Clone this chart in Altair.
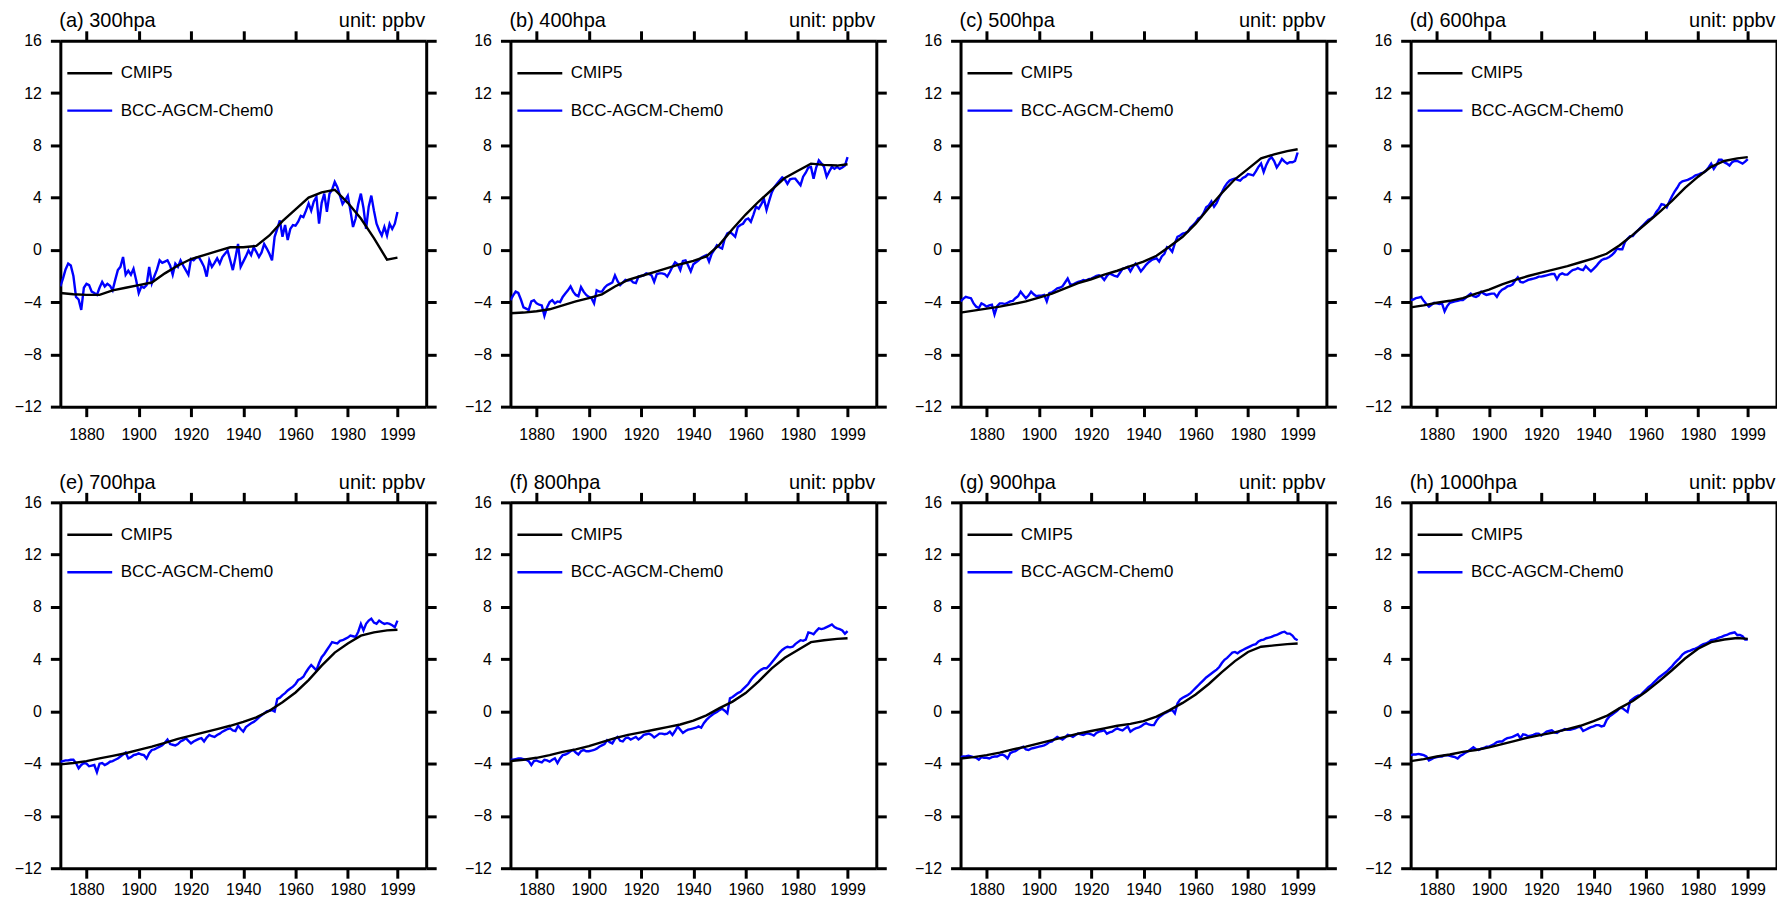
import altair as alt
import pandas as pd

FONT = "Liberation Sans"

YEARS = list(range(1870, 2000))
CMIP_YEARS = [1870, 1875, 1880, 1885, 1890, 1895, 1900, 1905, 1910, 1915, 1920, 1925, 1930,
              1935, 1940, 1945, 1950, 1955, 1960, 1965, 1970, 1975, 1980, 1985, 1990, 1995, 1999]
SERIES = ["CMIP5", "BCC-AGCM-Chem0"]
PANEL_TITLES = ["(a) 300hpa", "(b) 400hpa", "(c) 500hpa", "(d) 600hpa",
                "(e) 700hpa", "(f) 800hpa", "(g) 900hpa", "(h) 1000hpa"]
UNIT = "unit: ppbv"
X_TICKS = [1880, 1900, 1920, 1940, 1960, 1980, 1999]
Y_TICKS = [-12, -8, -4, 0, 4, 8, 12, 16]

# ---------------- CMIP5 (black) ----------------
cmip_300 = [-3.3, -3.4, -3.45, -3.45, -3.1, -2.9, -2.7, -2.5, -1.8, -1.2, -0.7, -0.4, -0.1, 0.2,
            0.2, 0.3, 1.1, 2.2, 3.1, 4.0, 4.4, 4.6, 3.6, 2.4, 0.9, -0.75, -0.6]
cmip_400 = [-4.85, -4.8, -4.7, -4.55, -4.25, -3.95, -3.7, -3.4, -2.8, -2.3, -2.0, -1.7, -1.4, -1.1,
            -0.85, -0.5, 0.4, 1.6, 2.7, 3.7, 4.6, 5.5, 6.05, 6.6, 6.5, 6.45, 6.55]
cmip_500 = [-4.8, -4.65, -4.5, -4.35, -4.15, -3.95, -3.65, -3.35, -2.95, -2.55, -2.25, -1.9, -1.6,
            -1.25, -0.9, -0.45, 0.25, 1.0, 2.0, 3.2, 4.35, 5.4, 6.2, 7.0, 7.3, 7.55, 7.7]
cmip_600 = [-4.4, -4.25, -4.05, -3.9, -3.7, -3.35, -3.05, -2.65, -2.3, -2.0, -1.75, -1.5, -1.25,
            -0.95, -0.65, -0.3, 0.35, 1.15, 2.0, 2.85, 3.75, 4.75, 5.6, 6.35, 6.8, 7.0, 7.1]
cmip_700 = [-4.05, -3.95, -3.8, -3.6, -3.4, -3.2, -2.95, -2.7, -2.4, -2.1, -1.85, -1.6, -1.35,
            -1.1, -0.8, -0.45, 0.05, 0.7, 1.45, 2.4, 3.5, 4.5, 5.2, 5.8, 6.05, 6.2, 6.25]
cmip_800 = [-3.8, -3.7, -3.55, -3.35, -3.1, -2.9, -2.65, -2.35, -2.05, -1.8, -1.6, -1.4, -1.2,
            -1.0, -0.7, -0.3, 0.25, 0.75, 1.4, 2.3, 3.3, 4.1, 4.7, 5.3, 5.45, 5.55, 5.6]
cmip_900 = [-3.6, -3.5, -3.35, -3.15, -2.9, -2.7, -2.45, -2.2, -1.95, -1.7, -1.5, -1.3, -1.1,
            -0.95, -0.75, -0.4, 0.1, 0.65, 1.3, 2.1, 3.0, 3.85, 4.55, 4.95, 5.05, 5.15, 5.2]
cmip_1000 = [-3.8, -3.65, -3.45, -3.3, -3.1, -2.95, -2.75, -2.5, -2.25, -2.0, -1.8, -1.6, -1.35,
             -1.1, -0.75, -0.35, 0.25, 0.8, 1.5, 2.3, 3.15, 4.05, 4.8, 5.3, 5.5, 5.62, 5.55]

# ---------------- BCC-AGCM-Chem0 (blue), annual 1870-1999 ----------------
bcc_300 = [
    -2.8, -2.2, -1.5, -1.05, -1.2, -2.0, -3.6, -3.8, -4.6, -2.9,
    -2.6, -2.7, -3.2, -3.3, -3.45, -2.9, -2.45, -2.8, -2.6, -2.75,
    -3.1, -2.3, -1.55, -1.3, -0.55, -1.9, -1.6, -1.9, -1.45, -2.3,
    -3.3, -2.8, -2.9, -2.7, -1.3, -2.55, -2.0, -1.5, -0.8, -1.0,
    -0.9, -0.8, -1.2, -1.9, -1.05, -1.3, -0.8, -1.2, -1.55, -1.9,
    -0.7, -0.8, -0.6, -0.55, -0.9, -1.3, -2.05, -0.8, -1.3, -1.0,
    -0.65, -1.05, -0.55, -0.3, -0.05, -0.8, -1.55, -0.6, 0.45, -1.3,
    -0.9, -0.5, -0.05, -0.4, 0.2, -0.15, -0.55, -0.2, 0.45, 0.1,
    -0.3, -0.8, 1.0, 1.6, 2.25, 1.0, 1.9, 0.75, 1.6, 1.9,
    1.85, 2.15, 2.6, 2.5, 3.0, 3.55, 3.0, 3.7, 4.05, 2.0,
    3.6, 4.3, 2.9, 4.3, 4.6, 5.2, 4.8, 4.15, 3.5, 3.8,
    4.15, 3.0, 1.75, 2.4, 3.5, 4.3, 3.2, 1.6, 3.3, 4.15,
    3.0, 2.0, 1.5, 1.1, 1.75, 1.1, 2.0, 1.6, 2.0, 2.9]
bcc_400 = [
    -3.85, -3.5, -3.2, -3.3, -3.8, -4.4, -4.5, -4.6, -3.95, -3.85,
    -4.1, -4.2, -4.25, -5.05, -4.4, -4.0, -3.85, -4.1, -3.95, -4.0,
    -3.6, -3.35, -3.1, -2.8, -3.2, -3.45, -3.55, -2.85, -3.2, -3.45,
    -3.6, -3.7, -4.1, -3.1, -3.2, -3.2, -2.9, -2.7, -2.6, -2.5,
    -1.95, -2.4, -2.7, -2.5, -2.3, -2.35, -2.3, -2.5, -2.55, -2.05,
    -2.0, -1.95, -1.8, -1.85, -1.95, -2.45, -1.85, -1.8, -1.8, -1.85,
    -2.05, -1.7, -1.3, -0.95, -1.1, -1.55, -0.85, -0.8, -1.2, -1.65,
    -1.1, -0.95, -0.8, -0.6, -0.5, -0.4, -0.9, -0.3, 0.0, 0.35,
    0.2, 0.1, 0.85, 1.25, 1.35, 1.2, 1.0, 1.75, 1.9, 2.0,
    2.3, 2.4, 2.15, 2.7, 3.3, 3.15, 3.5, 3.9, 3.05, 3.75,
    4.4, 4.8, 5.05, 5.3, 5.55, 5.4, 5.05, 5.4, 5.45, 5.45,
    5.2, 4.95, 5.6, 5.9, 6.3, 6.35, 5.45, 6.3, 6.85, 6.6,
    6.35, 5.6, 6.0, 6.35, 6.2, 6.35, 6.2, 6.3, 6.45, 7.1]
bcc_500 = [
    -3.95, -3.75, -3.6, -3.65, -3.7, -4.1, -4.35, -4.45, -4.1, -4.2,
    -4.35, -4.25, -4.2, -4.95, -4.3, -4.1, -4.1, -4.15, -4.05, -3.95,
    -3.9, -3.7, -3.55, -3.2, -3.45, -3.7, -3.5, -3.2, -3.4, -3.55,
    -3.5, -3.5, -3.45, -3.95, -3.3, -3.25, -3.1, -2.95, -2.9, -2.8,
    -2.5, -2.2, -2.65, -2.65, -2.55, -2.45, -2.4, -2.3, -2.35, -2.25,
    -2.2, -2.1, -2.0, -1.95, -2.05, -2.3, -2.0, -1.8, -1.9, -2.0,
    -2.05, -1.75, -1.45, -1.4, -1.3, -1.65, -1.3, -1.05, -1.3, -1.65,
    -1.4, -1.15, -0.95, -0.8, -0.7, -0.65, -0.9, -0.5, -0.3, 0.2,
    0.1, -0.15, 0.5, 1.0, 1.1, 1.25, 1.3, 1.4, 1.7, 1.9,
    2.1, 2.4, 2.5, 2.8, 3.25, 3.4, 3.7, 3.3, 3.6, 4.05,
    4.4, 4.8, 5.1, 5.3, 5.4, 5.45, 5.35, 5.3, 5.5, 5.6,
    5.8, 5.75, 5.7, 6.0, 6.35, 6.6, 5.95, 6.5, 6.9, 7.1,
    6.8, 6.3, 6.6, 6.95, 6.75, 6.6, 6.7, 6.7, 6.8, 7.45]
bcc_600 = [
    -3.85, -3.8, -3.7, -3.65, -3.6, -3.9, -4.15, -4.35, -4.2, -4.05,
    -4.1, -4.15, -4.1, -4.7, -4.3, -4.05, -4.0, -3.95, -3.9, -3.85,
    -3.85, -3.7, -3.5, -3.35, -3.55, -3.6, -3.5, -3.2, -3.35, -3.45,
    -3.4, -3.35, -3.35, -3.6, -3.25, -3.05, -2.95, -2.8, -2.75, -2.65,
    -2.35, -2.1, -2.45, -2.5, -2.4, -2.3, -2.25, -2.2, -2.15, -2.05,
    -2.05, -2.0, -1.95, -1.9, -1.85, -1.85, -2.25, -1.9, -1.8, -1.9,
    -1.9, -1.7, -1.55, -1.5, -1.4, -1.5, -1.55, -1.25, -1.45, -1.65,
    -1.45, -1.25, -1.0, -0.8, -0.7, -0.65, -0.55, -0.4, -0.2, 0.1,
    0.05, 0.05, 0.6, 0.85, 1.05, 1.05, 1.3, 1.5, 1.7, 1.9,
    2.1, 2.3, 2.4, 2.55, 2.9, 3.15, 3.5, 3.45, 3.25, 3.7,
    4.1, 4.45, 4.75, 5.1, 5.25, 5.3, 5.35, 5.45, 5.55, 5.7,
    5.75, 5.85, 5.9, 6.05, 6.3, 6.6, 6.2, 6.5, 6.9, 6.9,
    6.7, 6.6, 6.45, 6.7, 6.8, 6.8, 6.7, 6.6, 6.75, 6.95]
bcc_700 = [
    -3.85, -3.8, -3.75, -3.75, -3.7, -3.7, -3.95, -4.35, -4.1, -3.95,
    -4.0, -4.2, -4.15, -4.1, -4.65, -4.0, -3.95, -4.1, -4.0, -3.85,
    -3.8, -3.7, -3.6, -3.45, -3.3, -3.15, -3.6, -3.5, -3.35, -3.3,
    -3.2, -3.3, -3.35, -3.6, -3.2, -2.95, -2.9, -2.8, -2.7, -2.6,
    -2.4, -2.15, -2.5, -2.55, -2.6, -2.5, -2.3, -2.2, -2.05, -2.25,
    -2.45, -2.3, -2.2, -2.1, -2.05, -2.3, -2.0, -1.8, -1.9, -1.95,
    -1.8, -1.7, -1.55, -1.45, -1.35, -1.3, -1.45, -1.5, -1.1, -1.35,
    -1.55, -1.2, -1.05, -0.9, -0.8, -0.65, -0.45, -0.3, -0.15, 0.0,
    0.05, 0.1, 0.0, 0.95, 1.05, 1.25, 1.4, 1.6, 1.75, 1.9,
    2.1, 2.4, 2.5, 2.65, 3.0, 3.3, 3.55, 3.35, 3.15, 3.7,
    4.15, 4.4, 4.7, 5.0, 5.3, 5.25, 5.2, 5.4, 5.45, 5.55,
    5.65, 5.8, 5.75, 5.7, 6.1, 6.7, 6.2, 6.7, 6.95, 7.1,
    6.8, 6.7, 6.95, 6.8, 6.7, 6.75, 6.7, 6.6, 6.45, 6.95]
bcc_800 = [
    -3.7, -3.7, -3.65, -3.6, -3.6, -3.65, -3.7, -3.8, -4.1, -3.8,
    -3.75, -3.85, -3.9, -3.7, -3.75, -3.85, -3.7, -3.6, -3.95, -3.6,
    -3.35, -3.3, -3.2, -3.05, -2.95, -3.15, -3.3, -3.05, -2.95, -3.05,
    -3.05, -3.0, -2.95, -2.85, -2.7, -2.6, -2.5, -2.2, -2.35, -2.45,
    -2.1, -1.95, -2.25, -2.3, -2.05, -2.0, -2.15, -2.05, -1.95, -2.15,
    -2.0, -1.8, -1.75, -1.7, -1.8, -2.0, -1.85, -1.7, -1.7, -1.75,
    -1.7, -1.55, -1.8, -1.5, -1.15, -1.4, -1.65, -1.5, -1.4, -1.35,
    -1.3, -1.25, -1.15, -1.25, -0.9, -0.65, -0.45, -0.3, -0.15, -0.05,
    0.1, 0.2, 0.05, -0.15, 1.0, 1.1, 1.25, 1.4, 1.5, 1.7,
    1.9, 2.1, 2.4, 2.65, 2.85, 3.05, 3.2, 3.3, 3.3, 3.5,
    3.75, 4.0, 4.25, 4.5, 4.7, 4.85, 4.95, 4.9, 4.95, 5.15,
    5.3, 5.45, 5.4, 5.5, 6.05, 6.0, 5.9, 6.15, 6.35, 6.3,
    6.35, 6.45, 6.55, 6.65, 6.45, 6.35, 6.3, 6.2, 5.95, 6.15]
bcc_900 = [
    -3.5, -3.45, -3.45, -3.4, -3.45, -3.5, -3.55, -3.7, -3.5, -3.55,
    -3.55, -3.6, -3.5, -3.45, -3.45, -3.35, -3.3, -3.4, -3.6, -3.2,
    -3.1, -3.05, -2.9, -2.8, -2.7, -2.9, -2.95, -2.85, -2.8, -2.75,
    -2.7, -2.65, -2.6, -2.5, -2.35, -2.3, -2.1, -1.95, -2.05, -2.15,
    -2.0, -1.8, -1.85, -1.95, -1.8, -1.7, -1.75, -1.8, -1.7, -1.7,
    -1.75, -1.85, -1.65, -1.55, -1.5, -1.45, -1.7, -1.6, -1.55, -1.4,
    -1.3, -1.4, -1.45, -1.3, -1.15, -1.55, -1.4, -1.3, -1.25, -1.15,
    -1.0, -0.9, -1.0, -1.05, -1.05, -0.7, -0.45, -0.3, -0.15, -0.05,
    0.05, 0.1, -0.15, 0.6, 0.9, 1.05, 1.15, 1.25, 1.4, 1.6,
    1.8, 2.0, 2.2, 2.4, 2.6, 2.75, 2.9, 3.05, 3.2, 3.4,
    3.7, 3.95, 4.1, 4.3, 4.5, 4.55, 4.45, 4.6, 4.7, 4.8,
    4.9, 5.0, 5.1, 5.15, 5.35, 5.45, 5.5, 5.6, 5.65, 5.7,
    5.8, 5.85, 5.95, 6.05, 6.1, 5.95, 5.95, 5.8, 5.55, 5.45]
bcc_1000 = [
    -3.35, -3.3, -3.3, -3.25, -3.3, -3.35, -3.45, -3.75, -3.65, -3.55,
    -3.5, -3.45, -3.45, -3.35, -3.35, -3.4, -3.45, -3.5, -3.6, -3.4,
    -3.3, -3.15, -3.05, -2.9, -2.75, -2.9, -2.95, -2.85, -2.8, -2.7,
    -2.7, -2.6, -2.5, -2.35, -2.3, -2.3, -2.15, -2.05, -2.0, -1.95,
    -1.85, -1.75, -2.05, -1.75, -1.8, -1.9, -1.85, -1.8, -1.7, -1.7,
    -1.85, -1.7, -1.55, -1.5, -1.45, -1.6, -1.65, -1.5, -1.45, -1.35,
    -1.4, -1.4, -1.35, -1.3, -1.2, -1.2, -1.5, -1.4, -1.3, -1.2,
    -1.15, -1.05, -1.05, -1.15, -1.1, -0.65, -0.4, -0.25, -0.1, 0.05,
    0.25, 0.25, 0.1, -0.05, 0.8, 0.95, 1.1, 1.2, 1.25, 1.45,
    1.65, 1.85, 2.0, 2.2, 2.4, 2.6, 2.75, 2.9, 3.05, 3.25,
    3.45, 3.7, 3.9, 4.1, 4.35, 4.5, 4.6, 4.65, 4.75, 4.8,
    4.9, 5.05, 5.15, 5.2, 5.3, 5.45, 5.5, 5.55, 5.65, 5.7,
    5.8, 5.85, 5.95, 6.0, 6.05, 5.85, 5.85, 5.75, 5.5, 5.5]

CMIP = [cmip_300, cmip_400, cmip_500, cmip_600, cmip_700, cmip_800, cmip_900, cmip_1000]
BCC = [bcc_300, bcc_400, bcc_500, bcc_600, bcc_700, bcc_800, bcc_900, bcc_1000]

W = 367
H = 367


def panel(title, cmip, bcc, pad_first_label=False, x_label_pad=9.5):
    assert len(cmip) == len(CMIP_YEARS) and len(bcc) == len(YEARS)
    df = pd.DataFrame({
        "year": CMIP_YEARS + YEARS,
        "value": cmip + bcc,
        "series": [SERIES[0]] * len(cmip) + [SERIES[1]] * len(bcc),
    })
    xs = alt.Scale(domain=[1870, 2010], nice=False, zero=False)
    ys = alt.Scale(domain=[-12, 16], nice=False, zero=False)
    label_expr = ("datum.label == 'CMIP5' ? '\u00a0CMIP5' : datum.label"
                  if pad_first_label else "datum.label")
    color = alt.Color(
        "series:N",
        scale=alt.Scale(domain=SERIES, range=["black", "blue"]),
        legend=alt.Legend(
            title=None, orient="none", legendX=5.5, legendY=22.5,
            symbolType="stroke", symbolSize=2025, symbolStrokeWidth=2.4,
            clipHeight=20, rowPadding=17.6, labelOffset=7, padding=0,
            labelFont=FONT, labelFontSize=17, labelColor="black",
            labelLimit=400, labelExpr=label_expr,
        ),
    )
    base = alt.Chart(df)
    blue = base.transform_filter(alt.datum.series == SERIES[1]).mark_line(
        strokeWidth=2.4, clip=True
    ).encode(
        x=alt.X("year:Q", scale=xs,
                axis=alt.Axis(orient="bottom", values=X_TICKS, format="d", title=None,
                              labelPadding=x_label_pad)),
        y=alt.Y("value:Q", scale=ys,
                axis=alt.Axis(orient="left", values=Y_TICKS, title=None, labelPadding=9)),
        color=color,
    )
    black = base.transform_filter(alt.datum.series == SERIES[0]).mark_line(
        strokeWidth=2.4, clip=True
    ).encode(
        x=alt.X("year:Q", scale=xs,
                axis=alt.Axis(orient="top", values=X_TICKS, labels=False, title=None)),
        y=alt.Y("value:Q", scale=ys,
                axis=alt.Axis(orient="right", values=Y_TICKS, labels=False, title=None)),
        color=color,
    )
    tl = alt.Chart(pd.DataFrame({"t": [title]})).mark_text(
        align="left", baseline="alphabetic", font=FONT, fontSize=20, color="black"
    ).encode(text="t:N", x=alt.value(-1), y=alt.value(-13.5))
    tr = alt.Chart(pd.DataFrame({"t": [UNIT]})).mark_text(
        align="right", baseline="alphabetic", font=FONT, fontSize=20, color="black"
    ).encode(text="t:N", x=alt.value(W - 1), y=alt.value(-13.5))
    return alt.layer(blue, black, tl, tr).resolve_axis(
        x="independent", y="independent"
    ).properties(width=W, height=H)


panels = [
    panel(PANEL_TITLES[i], CMIP[i], BCC[i], pad_first_label=(i == 0),
          x_label_pad=(9.5 if i < 4 else 3))
    for i in range(8)
]

chart = alt.concat(
    *panels, columns=4, spacing={"row": 96, "column": 84.5}, bounds="flush"
).resolve_scale(
    color="independent"
).properties(
    padding={"left": 5.5, "top": 1.5, "right": -11, "bottom": 0},
    background="white",
).configure_view(
    stroke=None
).configure_axis(
    domainColor="black", domainWidth=3, tickColor="black", tickWidth=3, tickSize=10,
    labelFont=FONT, labelFontSize=16, labelColor="black", grid=False,
    labelFlush=False, labelOverlap=False,
)

chart.save("out.html", embed_options={"renderer": "svg", "actions": False})
